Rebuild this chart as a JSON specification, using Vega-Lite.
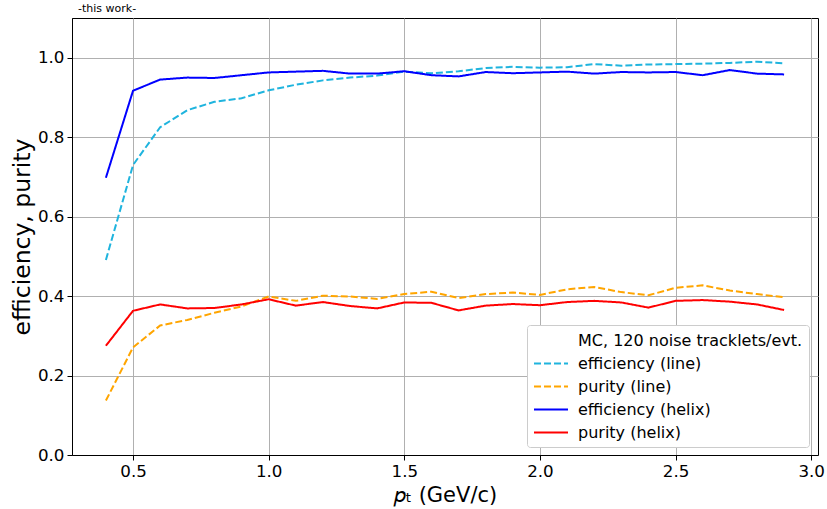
{
  "$schema": "https://vega.github.io/schema/vega-lite/v6.json",
  "width": 746,
  "height": 437,
  "autosize": "none",
  "padding": {"left": 72, "top": 18, "right": 9, "bottom": 54},
  "background": "white",
  "title": {"text": "-this work-", "anchor": "start", "fontSize": 11, "fontWeight": "normal", "font": "DejaVu Sans", "color": "black", "offset": 4, "dx": 6, "frame": "group"},
  "data": {"values": [
    {"pt":0.4,"val":0.491,"series":"efficiency (line)"},
    {"pt":0.5,"val":0.730,"series":"efficiency (line)"},
    {"pt":0.6,"val":0.825,"series":"efficiency (line)"},
    {"pt":0.7,"val":0.868,"series":"efficiency (line)"},
    {"pt":0.8,"val":0.889,"series":"efficiency (line)"},
    {"pt":0.9,"val":0.898,"series":"efficiency (line)"},
    {"pt":1.0,"val":0.918,"series":"efficiency (line)"},
    {"pt":1.1,"val":0.932,"series":"efficiency (line)"},
    {"pt":1.2,"val":0.943,"series":"efficiency (line)"},
    {"pt":1.3,"val":0.950,"series":"efficiency (line)"},
    {"pt":1.4,"val":0.955,"series":"efficiency (line)"},
    {"pt":1.5,"val":0.965,"series":"efficiency (line)"},
    {"pt":1.6,"val":0.961,"series":"efficiency (line)"},
    {"pt":1.7,"val":0.966,"series":"efficiency (line)"},
    {"pt":1.8,"val":0.974,"series":"efficiency (line)"},
    {"pt":1.9,"val":0.977,"series":"efficiency (line)"},
    {"pt":2.0,"val":0.975,"series":"efficiency (line)"},
    {"pt":2.1,"val":0.976,"series":"efficiency (line)"},
    {"pt":2.2,"val":0.984,"series":"efficiency (line)"},
    {"pt":2.3,"val":0.980,"series":"efficiency (line)"},
    {"pt":2.4,"val":0.983,"series":"efficiency (line)"},
    {"pt":2.5,"val":0.984,"series":"efficiency (line)"},
    {"pt":2.6,"val":0.985,"series":"efficiency (line)"},
    {"pt":2.7,"val":0.987,"series":"efficiency (line)"},
    {"pt":2.8,"val":0.990,"series":"efficiency (line)"},
    {"pt":2.9,"val":0.986,"series":"efficiency (line)"},
    {"pt":0.4,"val":0.137,"series":"purity (line)"},
    {"pt":0.5,"val":0.271,"series":"purity (line)"},
    {"pt":0.6,"val":0.326,"series":"purity (line)"},
    {"pt":0.7,"val":0.340,"series":"purity (line)"},
    {"pt":0.8,"val":0.358,"series":"purity (line)"},
    {"pt":0.9,"val":0.374,"series":"purity (line)"},
    {"pt":1.0,"val":0.399,"series":"purity (line)"},
    {"pt":1.1,"val":0.388,"series":"purity (line)"},
    {"pt":1.2,"val":0.401,"series":"purity (line)"},
    {"pt":1.3,"val":0.399,"series":"purity (line)"},
    {"pt":1.4,"val":0.393,"series":"purity (line)"},
    {"pt":1.5,"val":0.405,"series":"purity (line)"},
    {"pt":1.6,"val":0.411,"series":"purity (line)"},
    {"pt":1.7,"val":0.395,"series":"purity (line)"},
    {"pt":1.8,"val":0.405,"series":"purity (line)"},
    {"pt":1.9,"val":0.409,"series":"purity (line)"},
    {"pt":2.0,"val":0.403,"series":"purity (line)"},
    {"pt":2.1,"val":0.417,"series":"purity (line)"},
    {"pt":2.2,"val":0.423,"series":"purity (line)"},
    {"pt":2.3,"val":0.410,"series":"purity (line)"},
    {"pt":2.4,"val":0.402,"series":"purity (line)"},
    {"pt":2.5,"val":0.421,"series":"purity (line)"},
    {"pt":2.6,"val":0.427,"series":"purity (line)"},
    {"pt":2.7,"val":0.414,"series":"purity (line)"},
    {"pt":2.8,"val":0.405,"series":"purity (line)"},
    {"pt":2.9,"val":0.397,"series":"purity (line)"},
    {"pt":0.4,"val":0.698,"series":"efficiency (helix)"},
    {"pt":0.5,"val":0.917,"series":"efficiency (helix)"},
    {"pt":0.6,"val":0.945,"series":"efficiency (helix)"},
    {"pt":0.7,"val":0.950,"series":"efficiency (helix)"},
    {"pt":0.8,"val":0.949,"series":"efficiency (helix)"},
    {"pt":0.9,"val":0.956,"series":"efficiency (helix)"},
    {"pt":1.0,"val":0.963,"series":"efficiency (helix)"},
    {"pt":1.1,"val":0.965,"series":"efficiency (helix)"},
    {"pt":1.2,"val":0.967,"series":"efficiency (helix)"},
    {"pt":1.3,"val":0.960,"series":"efficiency (helix)"},
    {"pt":1.4,"val":0.960,"series":"efficiency (helix)"},
    {"pt":1.5,"val":0.966,"series":"efficiency (helix)"},
    {"pt":1.6,"val":0.956,"series":"efficiency (helix)"},
    {"pt":1.7,"val":0.953,"series":"efficiency (helix)"},
    {"pt":1.8,"val":0.964,"series":"efficiency (helix)"},
    {"pt":1.9,"val":0.961,"series":"efficiency (helix)"},
    {"pt":2.0,"val":0.963,"series":"efficiency (helix)"},
    {"pt":2.1,"val":0.965,"series":"efficiency (helix)"},
    {"pt":2.2,"val":0.960,"series":"efficiency (helix)"},
    {"pt":2.3,"val":0.964,"series":"efficiency (helix)"},
    {"pt":2.4,"val":0.963,"series":"efficiency (helix)"},
    {"pt":2.5,"val":0.964,"series":"efficiency (helix)"},
    {"pt":2.6,"val":0.956,"series":"efficiency (helix)"},
    {"pt":2.7,"val":0.969,"series":"efficiency (helix)"},
    {"pt":2.8,"val":0.960,"series":"efficiency (helix)"},
    {"pt":2.9,"val":0.958,"series":"efficiency (helix)"},
    {"pt":0.4,"val":0.275,"series":"purity (helix)"},
    {"pt":0.5,"val":0.363,"series":"purity (helix)"},
    {"pt":0.6,"val":0.379,"series":"purity (helix)"},
    {"pt":0.7,"val":0.369,"series":"purity (helix)"},
    {"pt":0.8,"val":0.370,"series":"purity (helix)"},
    {"pt":0.9,"val":0.379,"series":"purity (helix)"},
    {"pt":1.0,"val":0.392,"series":"purity (helix)"},
    {"pt":1.1,"val":0.376,"series":"purity (helix)"},
    {"pt":1.2,"val":0.385,"series":"purity (helix)"},
    {"pt":1.3,"val":0.375,"series":"purity (helix)"},
    {"pt":1.4,"val":0.369,"series":"purity (helix)"},
    {"pt":1.5,"val":0.384,"series":"purity (helix)"},
    {"pt":1.6,"val":0.383,"series":"purity (helix)"},
    {"pt":1.7,"val":0.364,"series":"purity (helix)"},
    {"pt":1.8,"val":0.376,"series":"purity (helix)"},
    {"pt":1.9,"val":0.380,"series":"purity (helix)"},
    {"pt":2.0,"val":0.377,"series":"purity (helix)"},
    {"pt":2.1,"val":0.385,"series":"purity (helix)"},
    {"pt":2.2,"val":0.388,"series":"purity (helix)"},
    {"pt":2.3,"val":0.384,"series":"purity (helix)"},
    {"pt":2.4,"val":0.371,"series":"purity (helix)"},
    {"pt":2.5,"val":0.388,"series":"purity (helix)"},
    {"pt":2.6,"val":0.390,"series":"purity (helix)"},
    {"pt":2.7,"val":0.386,"series":"purity (helix)"},
    {"pt":2.8,"val":0.379,"series":"purity (helix)"},
    {"pt":2.9,"val":0.365,"series":"purity (helix)"}
  ]},
  "mark": {"type": "line", "strokeWidth": 2, "clip": true},
  "encoding": {
    "x": {
      "field": "pt", "type": "quantitative",
      "scale": {"domain": [0.275, 3.025], "nice": false, "zero": false},
      "axis": {"values": [0.5, 1.0, 1.5, 2.0, 2.5, 3.0], "format": ".1f", "title": "𝑝ₜ (GeV/c)", "titleFontSize": 21, "titlePadding": 5}
    },
    "y": {
      "field": "val", "type": "quantitative",
      "scale": {"domain": [0, 1.1], "nice": false, "zero": true},
      "axis": {"values": [0, 0.2, 0.4, 0.6, 0.8, 1.0], "format": ".1f", "title": "efficiency, purity", "titleFontSize": 23.5, "titlePadding": 3}
    },
    "color": {
      "field": "series", "type": "nominal",
      "scale": {
        "domain": ["MC, 120 noise tracklets/evt.", "efficiency (line)", "purity (line)", "efficiency (helix)", "purity (helix)"],
        "range": ["rgba(255,255,255,0)", "#1fb4de", "#ffa500", "#0000ff", "#ff0000"]
      },
      "legend": {"title": null}
    },
    "strokeDash": {
      "field": "series", "type": "nominal",
      "scale": {
        "domain": ["MC, 120 noise tracklets/evt.", "efficiency (line)", "purity (line)", "efficiency (helix)", "purity (helix)"],
        "range": [[1, 0], [7, 3], [7, 3], [1, 0], [1, 0]]
      },
      "legend": {"title": null}
    }
  },
  "config": {
    "font": "DejaVu Sans",
    "view": {"stroke": "black", "strokeWidth": 1},
    "axis": {
      "domainColor": "black", "domainWidth": 1,
      "tickColor": "black", "tickSize": 5, "tickWidth": 1,
      "labelFontSize": 16.7, "labelColor": "black", "labelPadding": 3, "labelFont": "DejaVu Sans",
      "titleFont": "DejaVu Sans", "titleFontWeight": "normal", "titleColor": "black",
      "grid": true, "gridColor": "#b0b0b0", "gridWidth": 1
    },
    "legend": {
      "orient": "none", "legendX": 455, "legendY": 307,
      "fillColor": "white", "strokeColor": "#cccccc", "cornerRadius": 3,
      "padding": 6, "labelFontSize": 16, "labelFont": "DejaVu Sans", "labelColor": "black",
      "symbolType": "M-1,0H3", "symbolSize": 289, "symbolStrokeWidth": 2,
      "labelOffset": 26, "rowPadding": 5, "labelLimit": 400
    }
  }
}
